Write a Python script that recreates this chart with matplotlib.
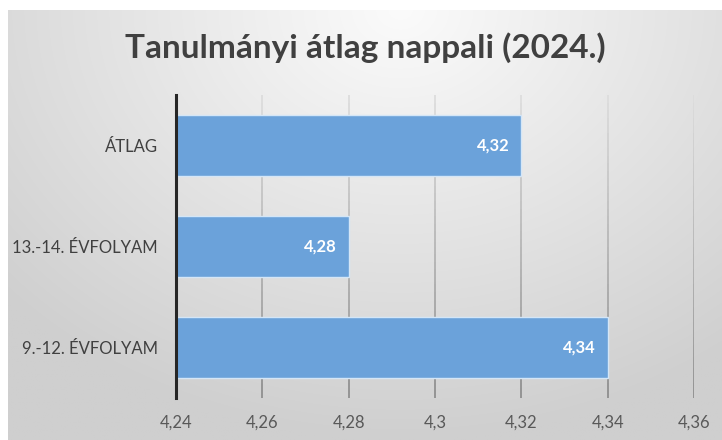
import numpy as np
import matplotlib
matplotlib.use("Agg")
import matplotlib.pyplot as plt
from matplotlib.collections import LineCollection
from matplotlib.colors import to_rgb

categories = ["9.-12. ÉVFOLYAM", "13.-14. ÉVFOLYAM", "ÁTLAG"]
values = [4.34, 4.28, 4.32]
value_labels = ["4,34", "4,28", "4,32"]
xticks = [4.24, 4.26, 4.28, 4.30, 4.32, 4.34, 4.36]
xtick_labels = ["4,24", "4,26", "4,28", "4,3", "4,32", "4,34", "4,36"]
title = "Tanulmányi átlag nappali (2024.)"

plt.rcParams['font.family'] = ['Lato', 'DejaVu Sans']

W, H = 722, 440
fig = plt.figure(figsize=(W / 100, H / 100), dpi=100, facecolor="white")

# background panel with gradient
bg = fig.add_axes([8 / W, 0, 1 - 8 / W, 1 - 10 / H])
bg.set_axis_off()
ny, nx = 200, 330
yy, xx = np.mgrid[0:1:ny * 1j, 0:1:nx * 1j]
d = np.sqrt(((xx - 0.55) / 0.75) ** 2 + (yy / 1.0) ** 2)
d = np.clip(d, 0, 1)
c_in = np.array(to_rgb("#fbfbfb"))
c_out = np.array(to_rgb("#cfcfcf"))
img = c_in[None, None, :] * (1 - d[..., None]) + c_out[None, None, :] * d[..., None]
bg.imshow(img, aspect="auto", extent=[0, 1, 1, 0], interpolation="bilinear")
bg.set_xlim(0, 1)
bg.set_ylim(1, 0)

ax = fig.add_axes([176 / W, 1 - 398 / H, 518 / W, 303 / H])
ax.patch.set_alpha(0)
ax.set_xlim(4.24, 4.36)
ax.set_ylim(-0.5, 2.5)

# gridlines with vertical shading (lighter top, darker bottom)
segs, cols = [], []
nseg = 40
top_c = np.array(to_rgb("#dcdcdc"))
bot_c = np.array(to_rgb("#888888"))
for xv in xticks[1:]:
    ys = np.linspace(2.5, -0.5, nseg + 1)
    for i in range(nseg):
        t = (i + 0.5) / nseg
        segs.append([(xv, ys[i]), (xv, ys[i + 1])])
        cols.append(top_c * (1 - t) + bot_c * t)
lc = LineCollection(segs, colors=cols, linewidths=1.2, zorder=1)
ax.add_collection(lc)

y = np.arange(len(categories))
bars = ax.barh(y, values, height=0.6, color="#6ba2da", edgecolor="#d4e6f7",
               linewidth=1.0, zorder=2)
for yi, v, lab in zip(y, values, value_labels):
    ax.text(v - 0.0027, yi, lab, ha="right", va="center", color="white",
            fontsize=12, fontweight="bold", zorder=3)

ax.set_yticks(y)
ax.set_yticklabels(categories, fontsize=12, color="#404040")
ax.set_xticks(xticks)
ax.set_xticklabels(xtick_labels, fontsize=12, color="#595959")
ax.tick_params(axis="y", length=0, pad=13)
ax.tick_params(axis="x", length=0, pad=12)
for s in ["top", "right", "bottom"]:
    ax.spines[s].set_visible(False)
ax.spines["left"].set_color("#262626")
ax.spines["left"].set_linewidth(2.2)
ax.spines["left"].set_zorder(4)

fig.text((8 + W) / 2 / W, 1 - 48 / H, title, ha="center", va="center",
         fontsize=24, fontweight="bold", color="#404040")

fig.savefig("out.png", dpi=100, facecolor="white")
